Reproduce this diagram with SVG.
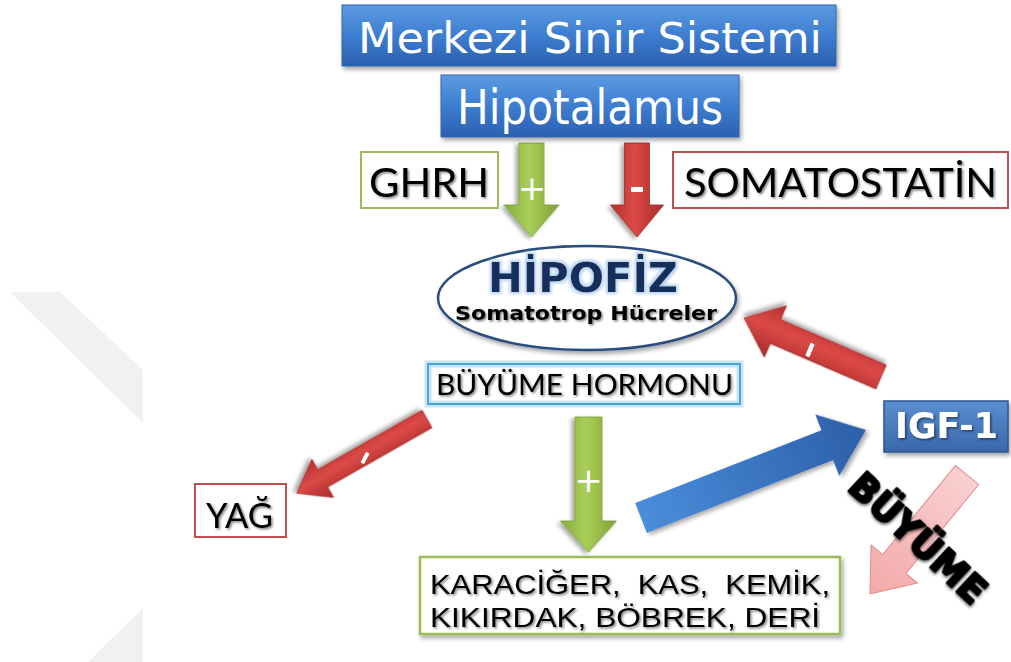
<svg xmlns="http://www.w3.org/2000/svg" width="1011" height="662" viewBox="0 0 1011 662">
<defs>
<linearGradient id="gBlue" x1="0" y1="0" x2="0" y2="1">
<stop offset="0" stop-color="#5d9be2"/><stop offset="0.5" stop-color="#3d7dd0"/><stop offset="1" stop-color="#2b60b0"/>
</linearGradient>
<linearGradient id="gIgf" x1="0" y1="0" x2="0" y2="1">
<stop offset="0" stop-color="#5a8fd0"/><stop offset="1" stop-color="#3968ab"/>
</linearGradient>
<linearGradient id="gGreen" x1="0" y1="0" x2="0" y2="1">
<stop offset="0" stop-color="#7ea236"/><stop offset="0.55" stop-color="#a9cf58"/><stop offset="1" stop-color="#86ad3b"/>
</linearGradient>
<linearGradient id="gRed" x1="0" y1="0" x2="0" y2="1">
<stop offset="0" stop-color="#a82a2a"/><stop offset="0.55" stop-color="#dc4a46"/><stop offset="1" stop-color="#b5302e"/>
</linearGradient>
<linearGradient id="gBlueArrow" x1="0" y1="0" x2="1" y2="0">
<stop offset="0" stop-color="#4a8ddb"/><stop offset="1" stop-color="#2d5fa8"/>
</linearGradient>
<linearGradient id="gPink" x1="0" y1="0" x2="1" y2="0">
<stop offset="0" stop-color="#f9d0d0"/><stop offset="1" stop-color="#f3a9a9"/>
</linearGradient>
<filter id="sh" x="-10%" y="-20%" width="130%" height="160%">
<feDropShadow dx="2" dy="3" stdDeviation="2" flood-color="#000" flood-opacity="0.35"/>
</filter>
<filter id="ts" x="-10%" y="-20%" width="130%" height="160%">
<feDropShadow dx="1.5" dy="1.5" stdDeviation="1.2" flood-color="#000" flood-opacity="0.5"/>
</filter>
<filter id="glow" x="-10%" y="-30%" width="120%" height="160%">
<feMorphology in="SourceAlpha" operator="dilate" radius="1.5" result="d"/>
<feGaussianBlur in="d" stdDeviation="1.5" result="b"/>
<feFlood flood-color="#b9d3f0"/>
<feComposite in2="b" operator="in" result="g"/>
<feMerge><feMergeNode in="g"/><feMergeNode in="SourceGraphic"/></feMerge>
</filter>
<style>
.lbl{font-family:Lato,"Liberation Sans",sans-serif;fill:#000}
.lbl2{font-family:"Liberation Sans",Arial,sans-serif;fill:#000}
.ver{font-family:"DejaVu Sans",Verdana,sans-serif}
.pm{font-family:"DejaVu Sans",sans-serif;fill:#fff}
</style>
</defs>
<rect width="1011" height="662" fill="#fff"/>
<g id="watermark" fill="#f1f1f1">
<polygon points="10,292 60,292 143,370 143,423"/>
<polygon points="143,608 88,662 143,662"/>
</g>
<g id="connectors">
<g transform="translate(531.5,143) rotate(90)" filter="url(#sh)">
<polygon points="0,-12.5 62,-12.5 62,-27.5 94,0 62,27.5 62,12.5 0,12.5" fill="url(#gGreen)" stroke="#7a9c36" stroke-width="0.8"/>
</g>
<text class="pm" x="532" y="200" font-size="34" text-anchor="middle">+</text>
<g transform="translate(637,143) rotate(90)" filter="url(#sh)">
<polygon points="0,-12.5 62,-12.5 62,-26.5 94,0 62,26.5 62,12.5 0,12.5" fill="url(#gRed)" stroke="#a02c2c" stroke-width="0.8"/>
</g>
<rect x="631" y="187" width="12" height="5" rx="1" fill="#fff"/>
<g transform="translate(588.5,417) rotate(90)" filter="url(#sh)">
<polygon points="0,-13.5 104,-13.5 104,-28 135,0 104,28 104,13.5 0,13.5" fill="url(#gGreen)" stroke="#7a9c36" stroke-width="0.8"/>
</g>
<text class="pm" x="588.5" y="492" font-size="34" text-anchor="middle">+</text>
<g transform="translate(427,419) rotate(150.35)" filter="url(#sh)">
<polygon points="0,-10 120,-10 120,-22 150,0 120,22 120,10 0,10" fill="url(#gRed)" stroke="#a02c2c" stroke-width="0.8"/>
</g>
<rect x="-6" y="-2" width="12" height="4" rx="1" fill="#fff" transform="translate(365,458) rotate(-62)"/>
<g transform="translate(881,377) rotate(-156.7)" filter="url(#sh)">
<polygon points="0,-13 115,-13 115,-28 149,0 115,28 115,13 0,13" fill="url(#gRed)" stroke="#a02c2c" stroke-width="0.8"/>
</g>
<rect x="-7" y="-2.2" width="14" height="4.4" rx="1" fill="#fff" transform="translate(810,350) rotate(-67)"/>
<g transform="translate(641,518) rotate(-21.36)" filter="url(#sh)">
<polygon points="0,-16 200,-16 200,-33 241.6,0 200,33 200,16 0,16" fill="url(#gBlueArrow)"/>
</g>
<g transform="translate(967,475) rotate(129.2)">
<polygon points="0,-15 115,-15 115,-30 153.5,0 115,30 115,15 0,15" fill="url(#gPink)" stroke="#e08a8a" stroke-width="1"/>
</g>
</g>
<g id="n-mss">
<rect x="342" y="5" width="494" height="61" fill="url(#gBlue)" stroke="#3565a8" stroke-width="1" filter="url(#sh)"/>
<text class="ver" x="358" y="53" font-size="42" fill="#fff" textLength="464" lengthAdjust="spacingAndGlyphs">Merkezi Sinir Sistemi</text>
</g>
<g id="n-hipotalamus">
<rect x="441" y="75" width="298" height="62" fill="url(#gBlue)" stroke="#3565a8" stroke-width="1" filter="url(#sh)"/>
<text class="ver" x="457" y="124" font-size="48" fill="#fff" textLength="266" lengthAdjust="spacingAndGlyphs">Hipotalamus</text>
</g>
<g id="n-ghrh">
<rect x="361" y="152" width="137" height="56" fill="#fff" stroke="#9bbb59" stroke-width="2"/>
<text class="lbl" x="369" y="197" font-size="40" textLength="120" lengthAdjust="spacingAndGlyphs" filter="url(#ts)">GHRH</text>
</g>
<g id="n-somatostatin">
<rect x="673" y="152" width="335" height="56" fill="#fff" stroke="#c0504d" stroke-width="2"/>
<text class="lbl" x="684" y="197" font-size="40" textLength="313" lengthAdjust="spacingAndGlyphs" filter="url(#ts)">SOMATOSTATİN</text>
</g>
<g id="n-hipofiz">
<ellipse cx="587" cy="298" rx="149" ry="52" fill="#fff" stroke="#2c4d80" stroke-width="2.5" filter="url(#sh)"/>
<text x="488" y="292" font-family="'DejaVu Sans',Verdana,sans-serif" font-weight="bold" font-size="41" fill="#142f5c" textLength="190" lengthAdjust="spacingAndGlyphs" filter="url(#glow)">HİPOFİZ</text>
<text x="455" y="320" font-family="'DejaVu Sans',Verdana,sans-serif" font-weight="bold" font-size="20" fill="#000" textLength="262" lengthAdjust="spacingAndGlyphs" filter="url(#ts)">Somatotrop Hücreler</text>
</g>
<g id="n-gh">
<rect x="428" y="364" width="312" height="40" fill="#fff" stroke="#c6e6f7" stroke-width="7"/>
<rect x="428" y="364" width="312" height="40" fill="none" stroke="#4aa6d6" stroke-width="2"/>
<text class="lbl" x="436" y="395" font-size="29" textLength="297" lengthAdjust="spacingAndGlyphs" filter="url(#ts)">BÜYÜME HORMONU</text>
</g>
<g id="n-yag">
<rect x="195" y="484" width="91" height="53" fill="#fff" stroke="#c0504d" stroke-width="2"/>
<text class="lbl" x="206" y="528" font-size="35" textLength="67" lengthAdjust="spacingAndGlyphs" filter="url(#ts)">YAĞ</text>
</g>
<g id="n-igf">
<rect x="884" y="401" width="124" height="51" fill="url(#gIgf)" stroke="#2f5590" stroke-width="1.5" filter="url(#sh)"/>
<text x="895" y="438" font-family="'DejaVu Sans',Verdana,sans-serif" font-weight="bold" font-size="35" fill="#fff" textLength="103" lengthAdjust="spacingAndGlyphs" filter="url(#ts)">IGF-1</text>
</g>
<g id="n-organs">
<rect x="420" y="557" width="420" height="77" fill="#fff" stroke="#9bbb59" stroke-width="2.5" filter="url(#sh)"/>
<text class="lbl2" x="430" y="594" font-size="28.5" xml:space="preserve" textLength="400" lengthAdjust="spacingAndGlyphs" filter="url(#ts)">KARACİĞER,  KAS,  KEMİK,</text>
<text class="lbl2" x="430" y="627" font-size="28.5" textLength="390" lengthAdjust="spacingAndGlyphs" filter="url(#ts)">KIKIRDAK, BÖBREK, DERİ</text>
</g>
<g id="n-buyume">
<text x="0" y="0" transform="translate(918,538) rotate(43)" text-anchor="middle" dy="13" font-family="'DejaVu Sans',sans-serif" font-weight="bold" font-size="37" fill="#000" stroke="#000" stroke-width="2.5" stroke-linejoin="round" textLength="172" lengthAdjust="spacingAndGlyphs" filter="url(#ts)">BÜYÜME</text>
</g>
</svg>
